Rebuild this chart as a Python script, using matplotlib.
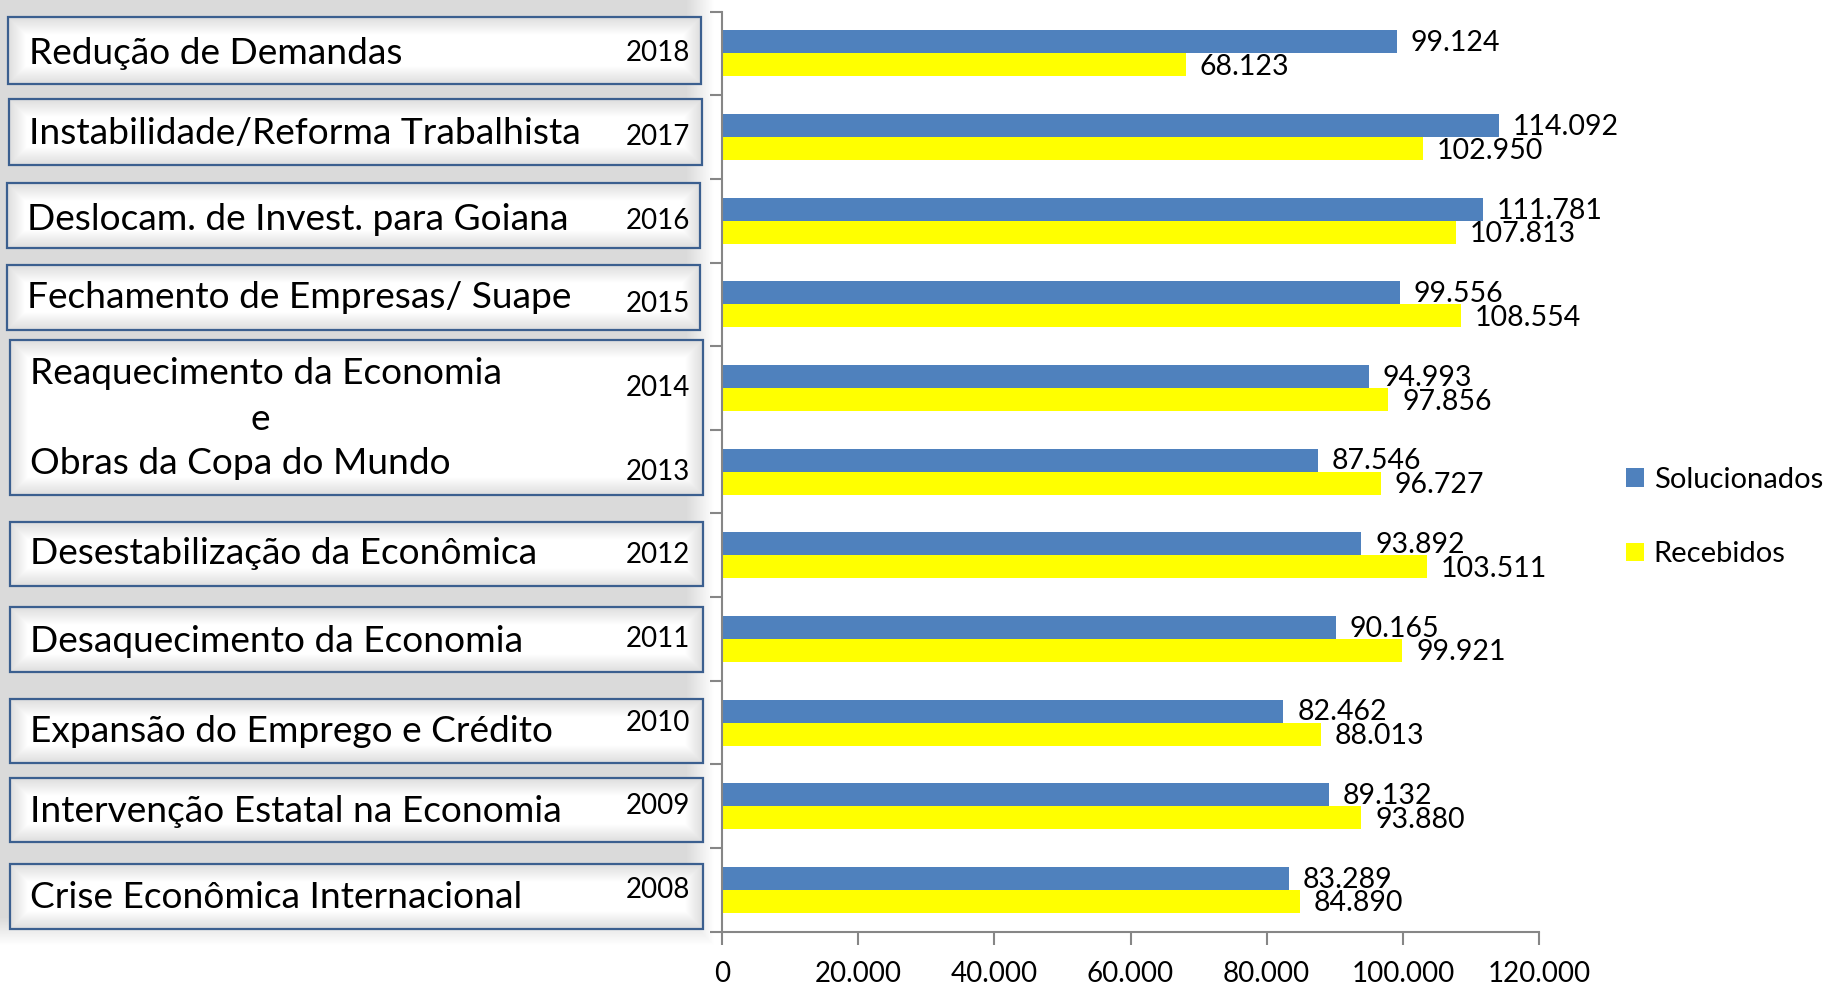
import numpy as np
import matplotlib
matplotlib.use('Agg')
import matplotlib.pyplot as plt
import matplotlib.transforms as mtransforms
from matplotlib.patches import Rectangle
from matplotlib.ticker import FuncFormatter

plt.rcParams['font.family'] = ['Lato', 'DejaVu Sans']

# Processos trabalhistas por ano (de baixo para cima no gráfico)
anos = [2008, 2009, 2010, 2011, 2012, 2013, 2014, 2015, 2016, 2017, 2018]
solucionados = [83289, 89132, 82462, 90165, 93892, 87546, 94993, 99556, 111781, 114092, 99124]
recebidos = [84890, 93880, 88013, 99921, 103511, 96727, 97856, 108554, 107813, 102950, 68123]

# Contexto econômico de cada período (de cima para baixo)
contextos = [
    ["Redução de Demandas"],
    ["Instabilidade/Reforma Trabalhista"],
    ["Deslocam. de Invest. para Goiana"],
    ["Fechamento de Empresas/ Suape"],
    ["Reaquecimento da Economia", "e", "Obras da Copa do Mundo"],
    ["Desestabilização da Econômica"],
    ["Desaquecimento da Economia"],
    ["Expansão do Emprego e Crédito"],
    ["Intervenção Estatal na Economia"],
    ["Crise Econômica Internacional"],
]

# caixas em pixels: (x0, y0, x1, y1) e posição vertical de cada linha de texto
caixas = [
    (8, 17, 701, 84), (9, 99, 702, 165), (7, 183, 700, 248), (7, 265, 700, 330),
    (10, 340, 703, 495), (10, 522, 703, 586), (10, 607, 703, 672),
    (10, 699, 703, 763), (10, 778, 703, 842), (10, 864, 703, 929),
]
linhas_y = [[54], [134], [219], [298], [374, 419, 463], [554], [642], [732], [812], [898]]
linhas_x = [[29], [29], [27], [27], [30, 250, 30], [30], [30], [30], [30], [30]]

W, H = 1826, 985
AZUL = '#4f81bd'
AMARELO = '#ffff00'
CINZA = '#868686'


def milhar(v, pos=None):
    return f"{int(v):,}".replace(",", ".")


fig = plt.figure(figsize=(W / 100, H / 100), dpi=100)

# fundo: faixa cinza atrás das caixas e brilho branco dentro de cada caixa
bg = fig.add_axes([0, 0, 1, 1], zorder=0)
bg.set_xlim(0, W)
bg.set_ylim(H, 0)
bg.axis('off')

yy, xx = np.mgrid[0:H, 0:W] + 0.5
d = np.minimum(714 - xx, 945 - yy)
fundo = 1 - (1 - 0.855) * np.clip(d / 28, 0, 1)
for (x0, y0, x1, y1) in caixas:
    dentro = (xx >= x0) & (xx <= x1) & (yy >= y0) & (yy <= y1)
    db = np.minimum(np.minimum(xx - x0, x1 - xx), np.minimum(yy - y0, y1 - yy))
    brilho = 0.88 + 0.12 * np.clip((db - 2) / 16, 0, 1)
    fundo[dentro] = brilho[dentro]
bg.imshow(np.dstack([fundo] * 3), extent=(0, W, H, 0), aspect='auto',
          interpolation='bilinear')

for (x0, y0, x1, y1), linhas, ys, xs in zip(caixas, contextos, linhas_y, linhas_x):
    bg.add_patch(Rectangle((x0, y0), x1 - x0, y1 - y0, fill=False,
                           ec='#3b5f8f', lw=1.6))
    for txt, ty, tx in zip(linhas, ys, xs):
        bg.text(tx, ty, txt, fontsize=26.7, va='center', ha='left')

# gráfico de barras
ax = fig.add_axes([722 / W, 1 - 931.6 / H, (1539 - 722) / W, (931.6 - 11.6) / H], zorder=1)
ax.patch.set_alpha(0)

y = np.arange(len(anos))
h = 0.275
b1 = ax.barh(y + h / 2, solucionados, h, color=AZUL, label='Solucionados')
b2 = ax.barh(y - h / 2, recebidos, h, color=AMARELO, label='Recebidos')

for yi, v in zip(y + h / 2, solucionados):
    ax.annotate(milhar(v), (v, yi), xytext=(10, -1), textcoords='offset points',
                va='center', ha='left', fontsize=20.5)
for yi, v in zip(y - h / 2, recebidos):
    ax.annotate(milhar(v), (v, yi), xytext=(10, -1.5), textcoords='offset points',
                va='center', ha='left', fontsize=20.5)

ax.set_xlim(0, 120000)
ax.set_ylim(-0.5, len(anos) - 0.5)
ax.set_xticks(np.arange(0, 120001, 20000))
ax.xaxis.set_major_formatter(FuncFormatter(milhar))
ax.set_yticks(np.arange(-0.5, len(anos), 1))
ax.set_yticklabels([])
ax.tick_params(axis='x', length=9, width=1.5, color=CINZA, labelsize=20, pad=12)
ax.tick_params(axis='y', length=9, width=1.5, color=CINZA)
for lado in ['top', 'right']:
    ax.spines[lado].set_visible(False)
for lado in ['left', 'bottom']:
    ax.spines[lado].set_color(CINZA)
    ax.spines[lado].set_linewidth(1.5)

# anos à direita de cada caixa, alinhados com as categorias
trans = mtransforms.blended_transform_factory(bg.transData, ax.transData)
for yi, ano in zip(y, anos):
    bg.text(690, yi, str(ano), transform=trans, fontsize=20, va='center', ha='right')

fig.legend(handles=[b1, b2], loc='center left', bbox_to_anchor=(1626 / W, 1 - 517 / H),
           frameon=False, fontsize=21, handlelength=0.6, handleheight=0.6,
           handletextpad=0.35, labelspacing=1.65, borderpad=0, borderaxespad=0)

fig.savefig('out.png', dpi=100)
